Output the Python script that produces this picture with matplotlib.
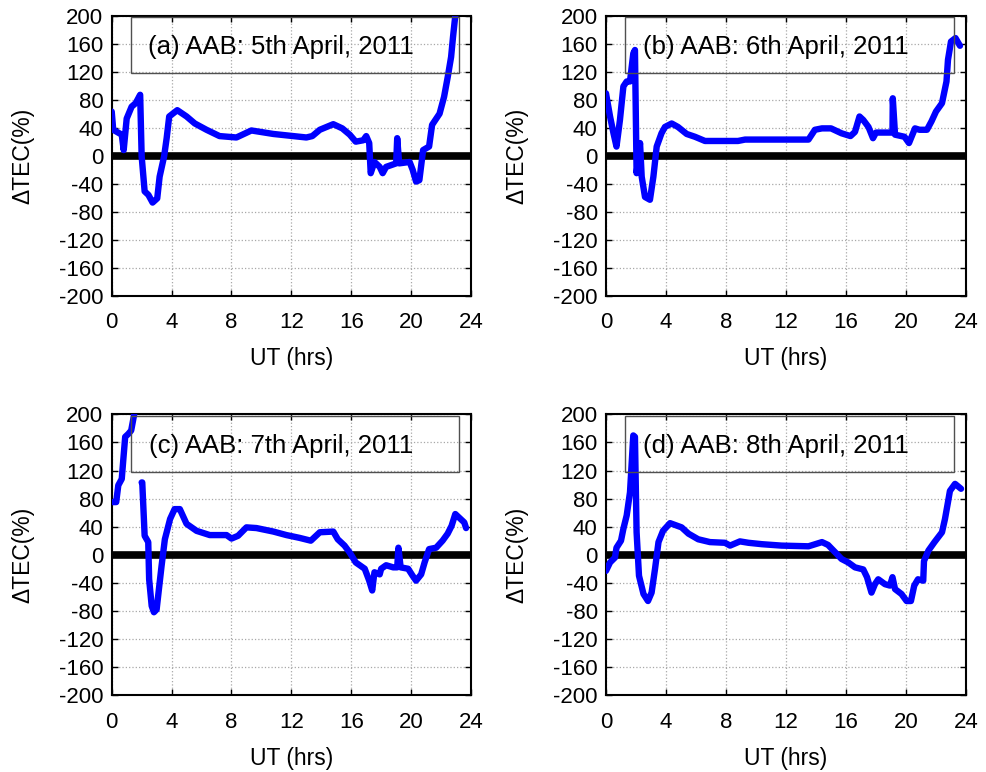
import numpy as np
import matplotlib.pyplot as plt

plt.rcParams['font.family'] = ['Liberation Sans', 'DejaVu Sans']
plt.rcParams['axes.unicode_minus'] = False

# UT hours and dTEC (%) for each day at AAB
ut_a = [0, 0.1, 0.67, 0.8, 1.0, 1.33, 1.6, 1.9, 2.0, 2.2, 2.45, 2.73, 3.04, 3.2, 3.5,
        3.67, 3.84, 4.38, 5.0, 5.55, 6.33, 7.2, 8.33, 9.33, 10.8, 13.0, 13.4, 13.9,
        14.8, 15.4, 15.9, 16.3, 16.8, 17.0, 17.2, 17.3, 17.55, 17.9, 18.1, 18.33,
        19.0, 19.07, 19.2, 19.9, 20.1, 20.33, 20.55, 20.8, 21.2, 21.4, 21.9, 22.2,
        22.45, 22.67, 22.8, 22.95]
tec_a = [63, 37, 30, 8, 53, 70, 75, 87, -1, -51, -56, -67, -61, -30, -1,
         25, 56, 65, 56, 46, 37, 28, 26, 36, 31, 26, 28, 37,
         45, 39, 30, 20, 22, 28, 18, -25, -9, -16, -25, -16,
         -11, 25, -11, -9, -20, -37, -35, 8, 13, 44, 60, 84,
         113, 141, 170, 200]

ut_b = [0, 0.27, 0.5, 0.7, 0.93, 1.16, 1.38, 1.6, 1.82, 1.93, 2.04, 2.27, 2.38, 2.6,
        2.93, 3.16, 3.38, 3.7, 3.93, 4.38, 4.8, 5.38, 5.93, 6.6, 8.8, 9.27, 13.5,
        13.93, 14.4, 15.0, 15.7, 16.3, 16.6, 16.9, 17.15, 17.5, 17.8, 18.0, 18.8,
        19.1, 19.12, 19.27, 19.9, 20.2, 20.6, 20.9, 21.4, 21.7, 22.0, 22.4, 22.7,
        22.8, 23.0, 23.3, 23.6]
tec_b = [89, 56, 32, 13, 51, 99, 106, 106, 146, 151, -25, 18, -30, -59,
         -63, -30, 13, 32, 41, 46, 41, 31, 27, 21, 21, 23, 23,
         37, 39, 39, 32, 28, 34, 56, 51, 41, 25, 33, 33,
         33, 82, 30, 27, 18, 39, 37, 37, 49, 63, 75, 106,
         137, 163, 168, 157]

ut_c = [0.07, 0.3, 0.44, 0.67, 0.78, 0.9, 1.1, 1.3, 1.5, 1.75, 2.0, 2.04, 2.2, 2.44,
        2.5, 2.67, 2.82, 3.0, 3.18, 3.33, 3.55, 3.9, 4.2, 4.55, 5.0, 5.67, 6.55,
        7.67, 8.0, 8.44, 9.0, 9.67, 10.8, 11.67, 12.55, 13.3, 13.9, 14.8, 15.1,
        15.55, 15.9, 16.3, 16.9, 17.2, 17.4, 17.55, 17.9, 18.0, 18.33, 18.8, 19.07,
        19.15, 19.3, 19.8, 20.1, 20.33, 20.67, 20.9, 21.2, 21.67, 22.1, 22.44,
        22.7, 22.95, 23.2, 23.55, 23.67]
tec_c = [75, 75, 99, 108, 137, 168, 172, 177, 200, np.nan, 103, 103, 27, 18,
         -35, -73, -82, -78, -44, -16, 22, 51, 65, 65, 44, 34, 28,
         28, 23, 27, 39, 38, 33, 28, 24, 20, 32, 33, 22,
         13, 3, -11, -20, -37, -51, -25, -28, -20, -15, -18, -18,
         10, -18, -20, -30, -37, -28, -11, 8, 10, 20, 30,
         41, 58, 53, 46, 38]

ut_d = [0, 0.27, 0.6, 0.7, 1.0, 1.16, 1.38, 1.6, 1.82, 1.93, 2.04, 2.2, 2.5, 2.8,
        3.04, 3.27, 3.5, 3.8, 4.27, 5.04, 5.5, 6.15, 6.93, 7.93, 8.27, 8.93, 9.5,
        10.4, 11.7, 13.5, 14.4, 14.8, 15.3, 15.7, 16.15, 16.6, 17.15, 17.4, 17.7,
        17.93, 18.15, 18.6, 18.93, 19.1, 19.27, 19.7, 20.04, 20.33, 20.55, 20.8,
        21.15, 21.2, 21.5, 21.9, 22.4, 22.6, 22.8, 22.93, 23.27, 23.67]
tec_d = [-23, -11, -4, 10, 20, 37, 56, 89, 170, 168, 32, -30, -56, -66,
         -54, -20, 18, 34, 45, 39, 30, 22, 18, 17, 13, 19, 17,
         15, 13, 12, 18, 14, 3, -6, -11, -18, -21, -32, -54,
         -42, -35, -42, -44, -32, -49, -56, -66, -66, -44, -35,
         -37, -9, 6, 18, 32, 51, 75, 91, 101, 94]

labels = ["(a) AAB: 5th April, 2011", "(b) AAB: 6th April, 2011",
          "(c) AAB: 7th April, 2011", "(d) AAB: 8th April, 2011"]
series = [(ut_a, tec_a), (ut_b, tec_b), (ut_c, tec_c), (ut_d, tec_d)]

xticks = [0, 4, 8, 12, 16, 20, 24]
yticks = [200, 160, 120, 80, 40, 0, -40, -80, -120, -160, -200]

fig = plt.figure(figsize=(9.86, 7.72), dpi=100)
positions = [[0.1133, 0.617, 0.3644, 0.3627], [0.6146, 0.617, 0.3651, 0.3627],
             [0.1133, 0.0997, 0.3644, 0.3635], [0.6146, 0.0997, 0.3651, 0.3635]]

for i in range(4):
    ax = fig.add_axes(positions[i])
    ut, tec = series[i]
    ax.axhline(0, color="k", lw=5.5, zorder=2)
    ax.plot(ut, tec, color="#0000ff", lw=4.6, zorder=3, solid_capstyle="round",
            solid_joinstyle="round")
    ax.set_xlim(0, 24)
    ax.set_ylim(-200, 200)
    ax.set_xticks(xticks)
    ax.set_yticks(yticks)
    ax.grid(True, color="#a8a8a8", ls=":", lw=0.9)
    ax.tick_params(direction="in", top=True, right=True, labelsize=16, length=4,
                   width=1)
    ax.tick_params(axis="x", pad=12)
    ax.tick_params(axis="y", pad=6)
    for s in ax.spines.values():
        s.set_linewidth(1.5)
    ax.set_xlabel("UT (hrs)", fontsize=16.5)
    ax.set_ylabel("\u0394TEC(%)", fontsize=16.5)
    ax.xaxis.set_label_coords(0.5, -0.185)
    ax.yaxis.set_label_coords(-0.215, 0.5)
    # boxed caption in the upper part of the panel
    ax.add_patch(plt.Rectangle((1.3, 118), 21.9, 80, fill=False, ec="#505050",
                               lw=1.0, zorder=4))
    ax.text(11.3, 155, labels[i], ha="center", va="center", fontsize=18.5, zorder=5)

plt.savefig("out.png", dpi=100)
